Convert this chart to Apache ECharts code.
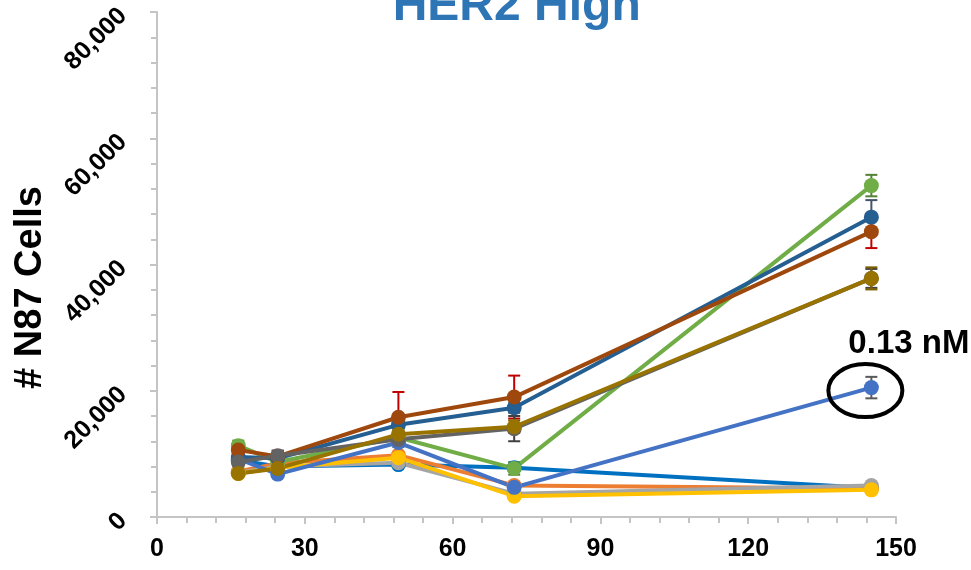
<!DOCTYPE html>
<html>
<head>
<meta charset="utf-8">
<script src="https://cdn.jsdelivr.net/npm/echarts@6/dist/echarts.min.js"></script>
<style>
html,body{margin:0;padding:0;background:#fff;}
#chart{width:971px;height:570px;}
</style>
</head>
<body>
<div id="chart"></div>
<script>
// ---- data ----
const titleText = "HER2 High";
const yAxisTitle = "# N87 Cells";
const annotationText = "0.13 nM";
const times = [16.5, 24.5, 49, 72.5, 145];
const xTicks = [0, 30, 60, 90, 120, 150];
const yTicks = [0, 20000, 40000, 60000, 80000];

const seriesNames = ["S1", "S2", "S3", "S4", "0.13 nM", "S6", "S7", "S8", "S9", "S10"];
const s1  = [9000, 8000, 8300, 7800, 4600];
const s2  = [7200, 8500, 9800, 5000, 4500];
const s3  = [7000, 8000, 8600, 3700, 5000];
const s4  = [6900, 7800, 9400, 3300, 4300];
const s5  = [9200, 6800, 11800, 4700, 20500];
const s6  = [11300, 8700, 12600, 7700, 52500];
const s7  = [9500, 9300, 14600, 17300, 47500];
const s8  = [10600, 9600, 15800, 19000, 45200];
const s9  = [8700, 9700, 12300, 14000, 37800];
const s10 = [6900, 7700, 13100, 14300, 37800];

const e1  = [300, 300, 300, 300, 300];
const e2  = [300, 300, 400, 400, 400];
const e3  = [300, 300, 400, 300, 300];
const e4  = [300, 300, 400, 300, 300];
const e5  = [500, 500, 700, 500, 1700];
const e6  = [800, 600, 800, 1000, 1700];
const e7  = [600, 600, 1000, 800, 2700];
const e8  = [800, 900, 4000, 3400, 2600];
const e9  = [600, 800, 800, 2000, 1500];
const e10 = [500, 500, 800, 1000, 1750];

const annotatedIndex = 4;   // series 5, last point
const annotatedPoint = 4;
// ---- styles ----
const colors = ["#0070C0", "#ED7D31", "#A5A5A5", "#FFC000", "#4472C4", "#70AD47", "#255E91", "#9E480E", "#636363", "#997300"];
const errColors = ["#0060A8", "#C55A11", "#808080", "#BF9000", "#595959", "#548235", "#44546A", "#C00000", "#404040", "#7F6000"];

const allValues = [s1, s2, s3, s4, s5, s6, s7, s8, s9, s10];
const allErrors = [e1, e2, e3, e4, e5, e6, e7, e8, e9, e10];

const FONT = "'Liberation Sans', Arial, sans-serif";
const chart = echarts.init(document.getElementById('chart'), null, {renderer: 'canvas'});

const series = [];
allValues.forEach((vals, i) => {
  series.push({
    type: 'line',
    name: seriesNames[i],
    data: vals.map((v, k) => [times[k], v]),
    symbol: 'circle',
    symbolSize: 15,
    lineStyle: {width: 4, color: colors[i]},
    itemStyle: {color: colors[i]},
    emphasis: {disabled: true},
    z: 2
  });
  series.push({
    type: 'custom',
    name: seriesNames[i] + ' err',
    data: vals.map((v, k) => [times[k], v - allErrors[i][k], v + allErrors[i][k]]),
    z: 2,
    renderItem: function (params, api) {
      const x = api.value(0);
      const pLo = api.coord([x, api.value(1)]);
      const pHi = api.coord([x, api.value(2)]);
      const hw = 6;
      const st = {stroke: errColors[i], lineWidth: 2};
      return {
        type: 'group',
        children: [
          {type: 'line', shape: {x1: pLo[0], y1: pLo[1], x2: pHi[0], y2: pHi[1]}, style: st},
          {type: 'line', shape: {x1: pLo[0] - hw, y1: pLo[1], x2: pLo[0] + hw, y2: pLo[1]}, style: st},
          {type: 'line', shape: {x1: pHi[0] - hw, y1: pHi[1], x2: pHi[0] + hw, y2: pHi[1]}, style: st}
        ]
      };
    }
  });
});

const axisGray = '#C4C4C4';
chart.setOption({
  animation: false,
  grid: {left: 157, right: 75, top: 12, bottom: 53},
  xAxis: {
    type: 'value',
    min: xTicks[0], max: xTicks[xTicks.length - 1], interval: xTicks[1] - xTicks[0],
    axisLine: {show: true, lineStyle: {color: axisGray, width: 2}},
    axisTick: {show: true, length: 7, lineStyle: {color: axisGray, width: 2}},
    minorTick: {show: true, splitNumber: 5, length: 6, lineStyle: {color: axisGray, width: 2}},
    splitLine: {show: false},
    axisLabel: {color: '#000', fontSize: 25, fontWeight: 'bold', fontFamily: FONT, margin: 20}
  },
  yAxis: {
    type: 'value',
    min: yTicks[0], max: yTicks[yTicks.length - 1], interval: yTicks[1] - yTicks[0],
    axisLine: {show: true, lineStyle: {color: axisGray, width: 2}},
    axisTick: {show: true, length: 7, lineStyle: {color: axisGray, width: 2}},
    minorTick: {show: true, splitNumber: 5, length: 6, lineStyle: {color: axisGray, width: 2}},
    splitLine: {show: false},
    axisLabel: {
      color: '#000', fontSize: 25, fontWeight: 'bold', fontFamily: FONT, rotate: 45, margin: 34,
      formatter: v => v.toLocaleString('en-US')
    }
  },
  series: series
});

// annotation positions derived from the data point via the chart's scales
const p = chart.convertToPixel({gridIndex: 0}, [times[annotatedPoint], allValues[annotatedIndex][annotatedPoint]]);
chart.setOption({
  graphic: [
    {type: 'text', x: 516.7, y: 6.5,
      style: {text: titleText, align: 'center', verticalAlign: 'middle',
        font: "bold 48px 'Liberation Sans', Arial, sans-serif", fill: '#2E75B6'}},
    {type: 'text', x: 31, y: 287.5, rotation: Math.PI / 2,
      style: {text: yAxisTitle, align: 'center', verticalAlign: 'middle',
        font: "bold 38px 'Liberation Sans', Arial, sans-serif", fill: '#000'}},
    {type: 'text', x: p[0] - 23, y: p[1] - 44,
      style: {text: annotationText, align: 'left', verticalAlign: 'middle',
        font: "bold 33px 'Liberation Sans', Arial, sans-serif", fill: '#000'}},
    {type: 'ellipse', shape: {cx: p[0] - 6, cy: p[1] + 3, rx: 37, ry: 26.5},
      style: {fill: 'none', stroke: '#000', lineWidth: 4}, z: 100}
  ]
});
</script>
</body>
</html>
